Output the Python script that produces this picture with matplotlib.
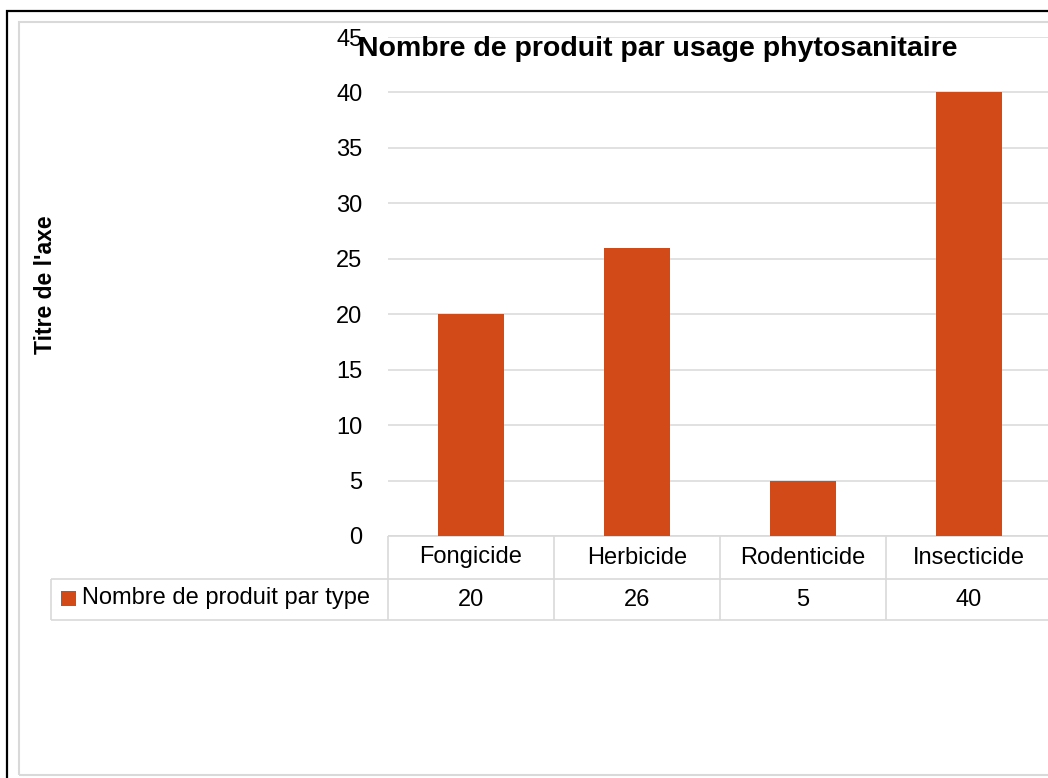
import matplotlib
matplotlib.use("Agg")
import matplotlib.pyplot as plt
from matplotlib.patches import Rectangle
import numpy as np

# data
categories = ["Fongicide", "Herbicide", "Rodenticide", "Insecticide"]
values = [20, 26, 5, 40]
series_name = "Nombre de produit par type"
title = "Nombre de produit par usage phytosanitaire"
y_label = "Titre de l'axe"
y_ticks = list(range(0, 50, 5))

BAR = "#D34A19"
GRID = "#D9D9D9"
W, H = 1048, 778

plt.rcParams["font.family"] = ["Liberation Sans", "DejaVu Sans"]

fig = plt.figure(figsize=(W / 100, H / 100), dpi=100)

# outer borders (cut off at right/bottom like the screenshot)
fig.patches.append(Rectangle((7 / W, -0.2), 1.2, 1.2 - 11 / H + 0.0,
                             transform=fig.transFigure, fill=False,
                             edgecolor="black", lw=1.6))
fig.patches.append(Rectangle((19 / W, 1 - 775 / H), 1.2, (775 - 22) / H,
                             transform=fig.transFigure, fill=False,
                             edgecolor=GRID, lw=1.5))

ax = fig.add_axes([388 / W, 1 - 536 / H, 664 / W, 499 / H])
x = np.arange(len(categories))
ax.bar(x, values, width=0.4, color=BAR, zorder=3)
ax.set_xlim(-0.5, len(categories) - 0.5)
ax.set_ylim(0, 45)
ax.set_yticks(y_ticks)
ax.tick_params(axis="y", length=0, pad=18.5, labelsize=17)
ax.set_xticks([])
for s in ax.spines.values():
    s.set_visible(False)
ax.grid(axis="y", color=GRID, lw=1.1, zorder=0)

# data table below the plot
r1 = -43 / 499
r2 = -84 / 499
left_cell = (51 - 388) / 664
tbl = dict(color=GRID, lw=1.2, clip_on=False, solid_capstyle="butt")
bt = ax.get_xaxis_transform()
ax.plot([0, 1], [0, 0], transform=ax.transAxes, **tbl)
ax.plot([left_cell, 1], [r1, r1], transform=ax.transAxes, **tbl)
ax.plot([left_cell, 1], [r2, r2], transform=ax.transAxes, **tbl)
ax.plot([left_cell, left_cell], [r1, r2], transform=ax.transAxes, **tbl)
for e in np.arange(len(categories) + 1) - 0.5:
    ax.plot([e, e], [0, r2], transform=bt, **tbl)
for i, (c, v) in enumerate(zip(categories, values)):
    ax.text(i, r1 / 2, c, transform=bt, ha="center", va="center", fontsize=17)
    ax.text(i, (r1 + r2) / 2, str(v), transform=bt, ha="center", va="center",
            fontsize=17)

# legend key in row header
fig.patches.append(Rectangle((61 / W, 1 - 606 / H), 15 / W, 15 / H,
                             transform=fig.transFigure, color=BAR, lw=0))
fig.text(82 / W, 1 - 598 / H, series_name, ha="left", va="center", fontsize=17)

fig.text(658 / W, 1 - 49 / H, title, ha="center", va="center",
         fontsize=20.5, fontweight="bold")
fig.text(45 / W, 1 - 285 / H, y_label, rotation=90, ha="center", va="center",
         fontsize=16.5, fontweight="bold")

fig.savefig("out.png", dpi=100)
